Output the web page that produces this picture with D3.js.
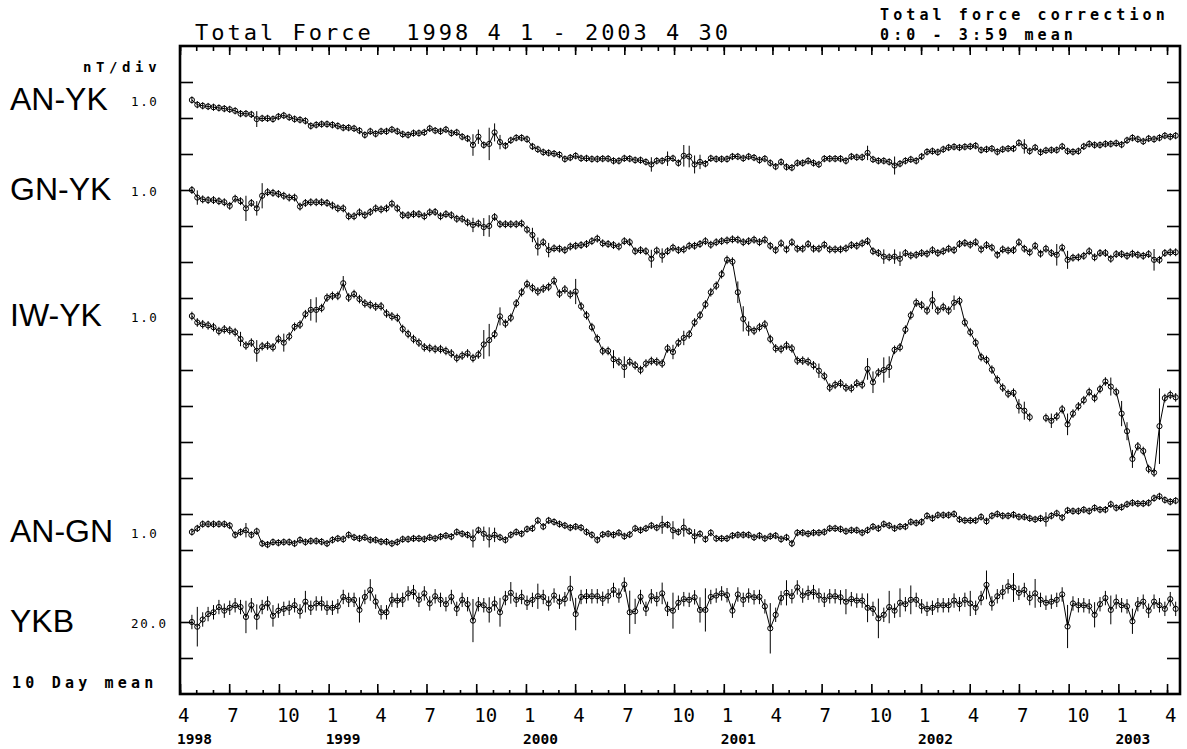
<!DOCTYPE html>
<html>
<head>
<meta charset="utf-8">
<script src="https://cdn.jsdelivr.net/npm/d3@7"></script>
<style>
  body { margin: 0; background: #fff; }
  svg text { font-family: "DejaVu Sans Mono", monospace; fill: #000; }
  .big { font-family: "Liberation Sans", Arial, sans-serif; font-size: 32px; }
</style>
</head>
<body>
<div id="chart"></div>
<script>
// 10 day means, nT, relative to the first value of each series
var anYK = [0,-0.13,-0.16,-0.18,-0.20,-0.22,-0.24,-0.26,-0.30,-0.38,
  -0.38,-0.40,-0.53,-0.51,-0.51,-0.53,-0.46,-0.43,-0.48,-0.53,
  -0.55,-0.58,-0.72,-0.69,-0.67,-0.67,-0.69,-0.72,-0.77,-0.77,
  -0.79,-0.85,-0.97,-0.87,-0.94,-0.87,-0.87,-0.82,-0.87,-0.95,
  -0.97,-0.92,-0.92,-0.90,-0.79,-0.85,-0.87,-0.82,-0.92,-0.90,
  -1.02,-1.07,-1.25,-1.02,-1.25,-1.22,-0.90,-1.17,-1.27,-1.12,
  -1.05,-1.05,-1.09,-1.29,-1.37,-1.45,-1.47,-1.49,-1.52,-1.64,
  -1.60,-1.55,-1.62,-1.62,-1.64,-1.64,-1.63,-1.63,-1.69,-1.69,
  -1.62,-1.63,-1.67,-1.67,-1.72,-1.79,-1.69,-1.69,-1.63,-1.62,
  -1.75,-1.55,-1.57,-1.79,-1.72,-1.77,-1.62,-1.64,-1.64,-1.64,
  -1.57,-1.57,-1.62,-1.57,-1.60,-1.67,-1.63,-1.75,-1.85,-1.72,
  -1.86,-1.88,-1.75,-1.75,-1.69,-1.75,-1.79,-1.63,-1.63,-1.63,
  -1.63,-1.69,-1.57,-1.59,-1.59,-1.47,-1.65,-1.69,-1.69,-1.72,
  -1.82,-1.77,-1.69,-1.65,-1.69,-1.57,-1.44,-1.42,-1.45,-1.37,
  -1.32,-1.30,-1.32,-1.30,-1.29,-1.27,-1.39,-1.37,-1.35,-1.44,
  -1.37,-1.35,-1.35,-1.19,-1.29,-1.42,-1.32,-1.45,-1.40,-1.39,
  -1.39,-1.29,-1.42,-1.44,-1.42,-1.29,-1.22,-1.25,-1.25,-1.22,
  -1.22,-1.20,-1.24,-1.12,-1.05,-1.09,-1.15,-1.07,-1.09,-1.05,
  -0.99,-1.02,-0.99];

var gnYK = [0,-0.21,-0.26,-0.28,-0.28,-0.31,-0.34,-0.44,-0.24,-0.31,
  -0.51,-0.36,-0.51,-0.16,-0.06,-0.08,-0.11,-0.16,-0.21,-0.21,
  -0.46,-0.36,-0.34,-0.34,-0.34,-0.36,-0.43,-0.51,-0.51,-0.73,
  -0.73,-0.62,-0.70,-0.61,-0.51,-0.54,-0.51,-0.38,-0.51,-0.70,
  -0.70,-0.67,-0.67,-0.73,-0.62,-0.61,-0.73,-0.67,-0.70,-0.80,
  -0.80,-0.90,-0.97,-0.93,-1.03,-1.00,-0.75,-0.95,-0.95,-0.95,
  -0.95,-0.93,-1.10,-1.25,-1.57,-1.45,-1.67,-1.62,-1.63,-1.67,
  -1.57,-1.55,-1.53,-1.50,-1.42,-1.35,-1.48,-1.50,-1.53,-1.57,
  -1.42,-1.45,-1.70,-1.67,-1.70,-1.91,-1.68,-1.82,-1.70,-1.60,
  -1.67,-1.65,-1.55,-1.55,-1.50,-1.42,-1.52,-1.45,-1.42,-1.40,
  -1.37,-1.38,-1.45,-1.42,-1.38,-1.45,-1.38,-1.55,-1.67,-1.48,
  -1.65,-1.45,-1.63,-1.63,-1.50,-1.63,-1.63,-1.52,-1.65,-1.65,
  -1.65,-1.62,-1.53,-1.55,-1.48,-1.42,-1.70,-1.75,-1.85,-1.87,
  -1.85,-1.91,-1.75,-1.82,-1.80,-1.75,-1.77,-1.67,-1.75,-1.70,
  -1.63,-1.67,-1.50,-1.47,-1.52,-1.45,-1.65,-1.53,-1.60,-1.80,
  -1.65,-1.68,-1.67,-1.45,-1.63,-1.73,-1.55,-1.77,-1.63,-1.75,
  -1.80,-1.60,-1.94,-1.88,-1.87,-1.83,-1.70,-1.87,-1.75,-1.75,
  -1.91,-1.78,-1.78,-1.83,-1.77,-1.80,-1.83,-1.78,-1.94,-1.94,
  -1.75,-1.73,-1.73];

var iwYK = [0,-0.18,-0.23,-0.26,-0.31,-0.42,-0.37,-0.40,-0.45,-0.64,
  -0.82,-0.74,-0.97,-0.84,-0.82,-0.87,-0.64,-0.74,-0.57,-0.30,
  -0.24,0.05,0.17,0.17,0.22,0.51,0.56,0.56,0.91,0.51,
  0.61,0.47,0.35,0.31,0.26,0.27,0.07,-0.01,-0.05,-0.36,
  -0.50,-0.64,-0.74,-0.87,-0.89,-0.92,-0.92,-0.97,-1.04,-1.17,
  -1.10,-1.04,-1.17,-1.07,-0.79,-0.67,-0.51,-0.01,-0.21,-0.05,
  0.35,0.66,0.89,0.78,0.68,0.76,0.81,0.98,0.62,0.74,
  0.60,0.68,0.27,0.02,-0.31,-0.63,-0.97,-0.97,-1.20,-1.27,
  -1.42,-1.27,-1.37,-1.50,-1.32,-1.25,-1.27,-1.32,-0.90,-1.00,
  -0.74,-0.61,-0.51,-0.18,0.02,0.32,0.66,0.84,1.16,1.56,
  1.51,0.66,-0.08,-0.35,-0.41,-0.31,-0.23,-0.64,-0.90,-0.92,
  -0.82,-0.90,-1.24,-1.24,-1.27,-1.37,-1.52,-1.67,-1.99,-1.91,
  -1.87,-1.99,-2.01,-1.87,-1.91,-1.47,-1.84,-1.57,-1.50,-1.42,
  -0.94,-0.87,-0.38,0.02,0.37,0.30,0.15,0.44,0.15,0.25,
  0.15,0.37,0.42,-0.18,-0.45,-0.74,-1.14,-1.22,-1.49,-1.77,
  -1.99,-2.16,-2.13,-2.51,-2.63,-2.81,null,null,-2.83,-2.91,
  -2.79,-2.59,-3.01,-2.71,-2.51,-2.34,-2.11,-2.28,-2.03,-1.82,
  -1.96,-2.11,-2.71,-3.20,-3.97,-3.62,-3.75,-4.25,-4.35,-3.06,
  -2.28,-2.19,-2.26];

var anGN = [0,0.10,0.22,0.22,0.22,0.22,0.22,0.18,-0.08,0.00,
  0.05,-0.08,0.02,-0.32,-0.35,-0.28,-0.30,-0.28,-0.28,-0.32,
  -0.22,-0.28,-0.25,-0.25,-0.27,-0.32,-0.22,-0.18,-0.20,-0.08,
  -0.15,-0.18,-0.15,-0.22,-0.22,-0.27,-0.27,-0.32,-0.28,-0.20,
  -0.20,-0.18,-0.18,-0.20,-0.15,-0.18,-0.13,-0.10,-0.13,0.00,
  -0.05,-0.08,-0.18,0.05,-0.05,-0.15,-0.08,-0.15,-0.22,-0.08,
  0.00,-0.05,0.08,0.10,0.32,0.15,0.32,0.28,0.22,0.18,
  0.12,0.15,0.12,0.00,-0.08,-0.22,-0.07,-0.05,-0.08,-0.02,
  -0.12,-0.07,0.10,0.05,0.10,0.18,0.12,0.20,0.20,0.05,
  0.00,0.12,0.02,-0.12,-0.05,-0.20,-0.02,-0.18,-0.18,-0.18,
  -0.10,-0.08,-0.08,-0.08,-0.15,-0.10,-0.18,-0.12,-0.10,-0.20,
  -0.15,-0.32,-0.02,-0.02,-0.05,-0.02,-0.02,0.00,0.10,0.10,
  0.08,0.02,0.05,0.05,-0.02,0.05,0.15,0.10,0.22,0.18,
  0.10,0.15,0.15,0.28,0.25,0.28,0.45,0.38,0.47,0.47,
  0.47,0.50,0.35,0.32,0.32,0.32,0.42,0.30,0.45,0.50,
  0.45,0.45,0.48,0.42,0.42,0.38,0.35,0.38,0.35,0.45,
  0.52,0.40,0.60,0.58,0.58,0.62,0.58,0.67,0.62,0.62,
  0.77,0.67,0.69,0.77,0.81,0.79,0.79,0.81,0.94,0.99,
  0.89,0.84,0.87];

var ykb = [0.0,-2.6,1.4,4.4,5.4,8.3,6.3,7.9,9.3,8.3,
  2.8,9.3,2.8,8.3,10.3,3.4,6.3,7.3,7.9,9.3,
  5.9,11.3,7.9,10.3,10.3,7.9,7.9,8.7,13.9,12.3,
  12.3,6.7,13.9,17.8,11.3,5.4,5.4,12.3,11.9,12.3,
  15.9,16.6,12.3,15.9,10.3,14.3,12.3,9.9,13.9,7.3,
  12.3,9.9,0.8,9.9,9.3,6.7,10.3,5.4,13.3,16.2,
  12.3,13.9,10.7,12.3,14.3,13.9,10.3,14.7,11.3,12.7,
  18.6,4.4,13.9,14.3,14.3,14.3,12.9,14.3,17.8,14.7,
  20.8,5.4,5.9,13.9,7.3,14.3,12.7,15.9,7.3,6.3,
  10.7,12.7,12.3,13.7,6.7,6.7,13.9,14.7,15.9,14.9,
  6.3,15.3,12.3,14.7,13.7,13.9,8.7,-3.5,4.0,13.3,
  16.2,14.3,19.2,14.7,16.2,16.6,14.7,12.3,14.3,14.3,
  13.7,11.3,12.7,11.9,11.9,7.9,7.3,2.0,4.0,8.3,
  6.3,10.7,9.9,12.3,12.3,8.7,7.3,7.9,9.3,9.3,
  9.3,11.9,9.9,12.3,10.3,7.9,13.3,20.6,10.3,14.3,
  16.6,19.8,19.2,16.2,17.8,13.3,15.9,12.3,10.7,11.3,
  12.3,15.3,-2.5,10.3,9.3,9.3,8.7,4.0,9.9,13.3,
  6.7,11.3,9.3,8.7,0.4,9.9,11.3,6.3,11.3,9.3,
  7.3,12.7,7.3];

// error bar half lengths (nT): usual size, and the larger ones by point index
var errUsual = [0.10, 0.11, 0.12, 0.10, 4.0];
var errAnYK = {12:0.22, 52:0.3, 53:0.2, 55:0.45, 56:0.25, 57:0.2, 85:0.2, 88:0.2, 91:0.3, 92:0.3, 93:0.25, 94:0.2, 125:0.2, 130:0.25, 154:0.2};
var errGnYK = {1:0.2, 10:0.35, 12:0.2, 13:0.35, 52:0.2, 54:0.25, 55:0.3, 63:0.2, 64:0.25, 66:0.2, 85:0.25, 87:0.2, 128:0.2, 130:0.2, 131:0.2, 160:0.3, 162:0.25, 178:0.3};
var errIwYK = {9:0.2, 12:0.3, 17:0.25, 22:0.3, 23:0.35, 28:0.2, 54:0.4, 55:0.45, 57:0.25, 71:0.35, 78:0.25, 80:0.3, 89:0.2, 91:0.2, 101:0.3, 102:0.35, 103:0.2, 116:0.2, 125:0.3, 126:0.3, 128:0.35, 129:0.3, 137:0.25, 141:0.2, 153:0.2, 154:0.25, 159:0.2, 162:0.3, 170:0.25, 172:0.35, 173:0.25, 174:0.25, 179:1.05};
var errAnGN = {10:0.2, 52:0.25, 54:0.2, 55:0.28, 56:0.2, 87:0.25, 89:0.25, 91:0.25, 93:0.2, 158:0.2};
var errYkb = {1:11, 10:9, 12:7, 15:6, 21:6, 31:7, 33:6, 52:12, 55:7, 57:8, 59:6, 64:7, 70:7, 71:9, 81:12, 82:7, 87:6, 89:10, 94:7, 95:12, 107:14, 110:7, 121:7, 125:8, 127:11, 129:9, 131:8, 133:8, 144:7, 147:8, 152:8, 156:8, 162:12, 167:7, 170:8, 174:7};

var seriesLabels = ["AN-YK", "GN-YK", "IW-YK", "AN-GN", "YKB"];
var seriesDivText = ["1.0", "1.0", "1.0", "1.0", "20.0"];
var nTPerDiv = [1, 1, 1, 1, 20];
var seriesValues = [anYK, gnYK, iwYK, anGN, ykb];
var seriesErrBig = [errAnYK, errGnYK, errIwYK, errAnGN, errYkb];

var firstMean = new Date(1998, 3, 23), stepDays = 10;
var yearLabels = ["1998", "1999", "2000", "2001", "2002", "2003"];
var yearDates = [new Date(1998,3,1), new Date(1999,0,1), new Date(2000,0,1), new Date(2001,0,1), new Date(2002,0,1), new Date(2003,0,1)];

var W = 1187, H = 749,
    m = { l:180, r:1180, t:46, b:694 },
    baseDiv = [1.5, 4, 7.5, 13.5, 16];   // where the first value of each series sits

var svg = d3.select("#chart").append("svg")
    .attr("width", W).attr("height", H);

var x = d3.scaleTime()
    .domain([new Date(1998,3,1), new Date(2003,3,25)])
    .range([m.l, m.r]);
var yDiv = d3.scaleLinear().domain([0, 18]).range([m.t, m.b]);

var months = d3.timeMonth.range(new Date(1998,3,1), new Date(2003,4,1)),
    quarters = months.filter(function(d) { return d.getMonth() % 3 === 0; });

// ticks on the frame
function tickAxis(axis, tx, ty) {
  var g = svg.append("g").attr("transform", "translate("+tx+","+ty+")")
      .call(axis.tickFormat(""));
  g.select(".domain").remove();
  g.selectAll("line").attr("stroke", "#000").attr("stroke-width", 1.6);
}
tickAxis(d3.axisBottom(x).tickValues(months).tickSize(5), 0, m.t);
tickAxis(d3.axisBottom(x).tickValues(quarters).tickSize(9), 0, m.t);
tickAxis(d3.axisTop(x).tickValues(months).tickSize(4), 0, m.b);
tickAxis(d3.axisTop(x).tickValues(quarters).tickSize(10), 0, m.b);
tickAxis(d3.axisRight(yDiv).tickValues(d3.range(1, 18)).tickSize(13), m.l, 0);
tickAxis(d3.axisLeft(yDiv).tickValues(d3.range(1, 18)).tickSize(13), m.r, 0);

svg.append("rect")
    .attr("x", m.l).attr("y", m.t)
    .attr("width", m.r - m.l).attr("height", m.b - m.t)
    .attr("fill", "none").attr("stroke", "#000").attr("stroke-width", 2.6);

// month and year labels
svg.selectAll(".mlab").data(quarters).enter().append("text")
    .attr("x", function(d) { return x(d) - 2; })
    .attr("y", 722)
    .style("font-size", "19px")
    .text(function(d) { return d.getMonth() + 1; });
svg.selectAll(".ylab").data(yearLabels).enter().append("text")
    .attr("x", function(d, i) { return x(yearDates[i]) - 3; })
    .attr("y", 744)
    .style("font-size", "14.5px").style("font-weight", "bold")
    .text(function(d) { return d; });

// titles
svg.append("text").attr("x", 195).attr("y", 40)
    .style("font-size", "22px").style("letter-spacing", "3.0px")
    .attr("xml:space", "preserve")
    .text("Total Force  1998 4 1 - 2003 4 30");
svg.append("text").attr("x", 880).attr("y", 20)
    .style("font-size", "15px").style("font-weight", "bold").style("letter-spacing", "4.1px")
    .text("Total force correction");
svg.append("text").attr("x", 880).attr("y", 40)
    .style("font-size", "15px").style("font-weight", "bold").style("letter-spacing", "4.1px")
    .text("0:0 - 3:59 mean");
svg.append("text").attr("x", 83).attr("y", 72)
    .style("font-size", "14px").style("font-weight", "bold").style("letter-spacing", "4.6px")
    .text("nT/div");
svg.append("text").attr("x", 12).attr("y", 688)
    .style("font-size", "15px").style("font-weight", "bold").style("letter-spacing", "4.2px")
    .text("10 Day mean");

// series
seriesValues.forEach(function(vals, s) {
  var y0 = yDiv(baseDiv[s]),
      y = d3.scaleLinear().domain([0, nTPerDiv[s]]).range([y0, yDiv(baseDiv[s] - 1)]);
  var pts = vals.map(function(v, i) {
    var e = seriesErrBig[s][i] !== undefined ? seriesErrBig[s][i] : errUsual[s];
    return { date: d3.timeDay.offset(firstMean, stepDays * i), v: v, e: e };
  });
  var ok = pts.filter(function(d) { return d.v !== null; });

  svg.append("text").attr("class", "big")
      .attr("x", 10).attr("y", y0 + 10)
      .text(seriesLabels[s]);
  svg.append("text")
      .attr("x", 131).attr("y", y0 + 6)
      .style("font-size", "12.5px").style("letter-spacing", "1.6px")
      .text(seriesDivText[s]);

  var g = svg.append("g").attr("class", "series");
  g.append("path")
      .datum(pts)
      .attr("fill", "none").attr("stroke", "#000").attr("stroke-width", 1)
      .attr("d", d3.line()
        .defined(function(d) { return d.v !== null; })
        .x(function(d) { return x(d.date); })
        .y(function(d) { return y(d.v); }));
  g.selectAll(".err").data(ok).enter().append("line")
      .attr("x1", function(d) { return x(d.date); })
      .attr("x2", function(d) { return x(d.date); })
      .attr("y1", function(d) { return y(d.v - d.e); })
      .attr("y2", function(d) { return y(d.v + d.e); })
      .attr("stroke", "#000").attr("stroke-width", 1);
  g.selectAll(".dot").data(ok).enter().append("circle")
      .attr("cx", function(d) { return x(d.date); })
      .attr("cy", function(d) { return y(d.v); })
      .attr("r", 2.6)
      .attr("fill", "none").attr("stroke", "#000").attr("stroke-width", 1);
});
</script>
</body>
</html>
